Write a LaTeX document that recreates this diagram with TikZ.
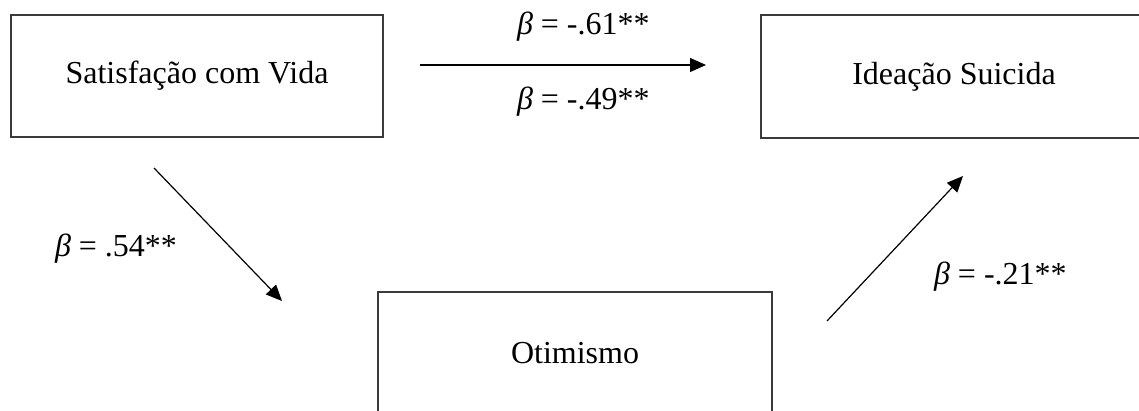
\documentclass[tikz,border=0pt]{standalone}
\usepackage{fontspec}
\setmainfont{Liberation Serif}
\usepackage{xcolor}
\usepackage{tikz}
\usetikzlibrary{positioning,arrows.meta}
\definecolor{ink}{HTML}{000000}
\definecolor{edge}{HTML}{3A3A3A}
\tikzset{
  varbox/.style  = {draw=edge, fill=white, line width=1.4pt, inner sep=0pt, outer sep=0pt,
                    font=\fontsize{32}{37}\selectfont\color{ink}},
  coef/.style    = {font=\fontsize{32}{37}\selectfont\color{ink}, anchor=base west, inner sep=0pt, outer sep=0pt},
  effect/.style  = {-{Triangle[length=16pt,width=14pt]}, draw=ink, line width=1.2pt},
}
\newcommand{\bet}{{\itshape β}}

\begin{document}
\begin{tikzpicture}[x=1pt,y=1pt]
\useasboundingbox (0,0) rectangle (1139,411);
\clip (0,0) rectangle (1139,411);

% ---- variables ----------------------------------------------------------
\node[varbox, minimum width=372pt, minimum height=122pt] (satvida)  at (197,335) {Satisfação com Vida};
\node[varbox, minimum width=386pt, minimum height=123pt] (ideacao)  at (954,334.5) {Ideação Suicida};
\node[varbox, minimum width=394pt, minimum height=122pt] (otimismo) at (575,58) {Otimismo};

% ---- path ends ----------------------------------------------------------
\coordinate (direto-a) at (420,346);
\coordinate (direto-b) at (706,346);
\coordinate (med-a)    at (154,243);
\coordinate (med-b)    at (282,110);
\coordinate (otim-a)   at (827,90);
\coordinate (otim-b)   at (963,235);

\draw[effect] (direto-a) -- (direto-b);
\draw[effect] (med-a) -- (med-b);
\draw[effect] (otim-a) -- (otim-b);

% ---- coefficients -------------------------------------------------------
\node[coef] (c-total)  at (517,376) {\bet{} = -.61**};
\node[coef] (c-direto) at (517,301) {\bet{} = -.49**};
\node[coef] (c-med)    at (55,154)  {\bet{} = .54**};
\node[coef] (c-otim)   at (934,126) {\bet{} = -.21**};

\end{tikzpicture}
\end{document}
